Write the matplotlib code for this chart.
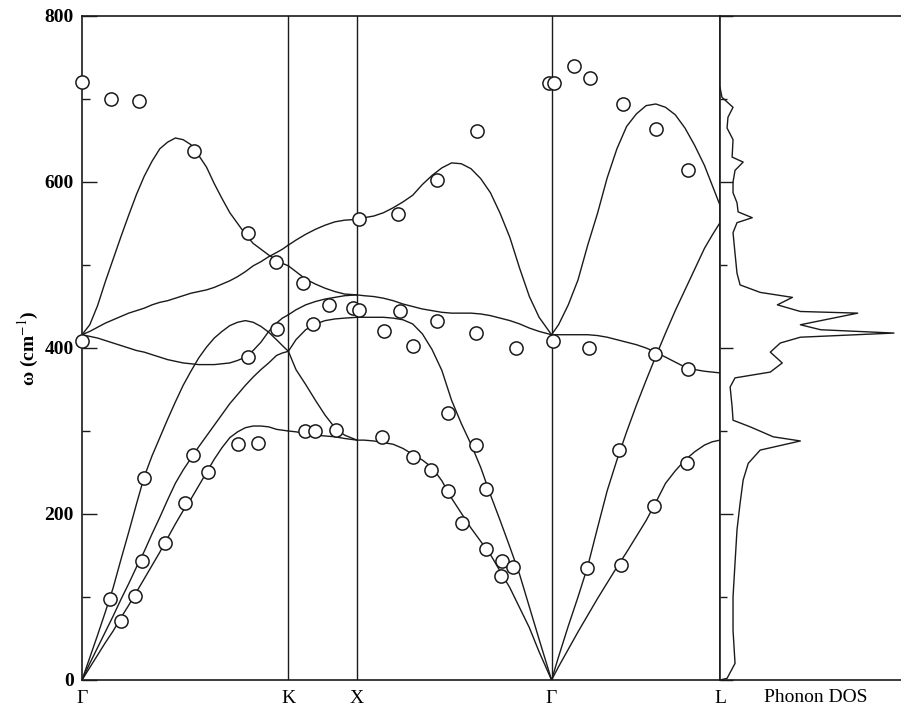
import matplotlib
matplotlib.use("Agg")
import matplotlib.pyplot as plt
from matplotlib.ticker import MultipleLocator

# high-symmetry points along the path (units of 2*pi/a)
path_q = [0.0, 1.061, 1.414, 2.414, 3.280]
path_labels = ["Γ", "K", "X", "Γ", "L"]

# calculated dispersion, Gamma -> K
q_gk = [0, 0.04, 0.08, 0.12, 0.16, 0.20, 0.24, 0.28, 0.32, 0.36, 0.40, 0.44, 0.48, 0.52,
        0.56, 0.60, 0.64, 0.68, 0.72, 0.76, 0.80, 0.84, 0.88, 0.92, 0.96, 1.00, 1.03, 1.061]
gk_ta1 = [0, 15, 30, 45, 59, 75, 90, 106, 122, 138, 154, 171, 188, 204,
          218, 234, 250, 266, 280, 292, 299, 304, 306, 306, 305, 302, 301, 300]
gk_ta2 = [0, 20, 39, 58, 77, 97, 116, 136, 155, 176, 196, 217, 237, 253,
          267, 281, 294, 307, 320, 333, 344, 355, 365, 374, 382, 391, 394, 396]
gk_la = [0, 27, 54, 82, 111, 145, 178, 212, 245, 270, 292, 314, 335, 355,
         372, 388, 401, 412, 420, 427, 431, 433, 431, 426, 419, 410, 403, 396]
gk_to1 = [416, 414, 412, 409, 406, 403, 400, 397, 395, 392, 389, 386, 384, 382,
          381, 380, 380, 380, 381, 382, 385, 389, 397, 407, 420, 430, 436, 440]
gk_to2 = [416, 420, 425, 430, 434, 438, 442, 445, 448, 452, 455, 457, 460, 463,
          466, 468, 470, 473, 477, 481, 486, 492, 499, 504, 510, 515, 519, 524]
gk_lo = [416, 428, 451, 480, 507, 534, 560, 585, 607, 625, 640, 648, 653, 651,
         645, 632, 618, 598, 580, 563, 550, 537, 526, 519, 512, 506, 502, 499]

# K -> X
q_kx = [1.061, 1.10, 1.15, 1.20, 1.25, 1.30, 1.35, 1.414]
kx_ta1 = [300, 299, 297, 295, 294, 293, 291, 289]
kx_ta2 = [396, 374, 356, 337, 319, 304, 295, 289]
kx_la = [396, 410, 422, 429, 433, 435, 436, 437]
kx_to1 = [440, 446, 452, 456, 459, 461, 463, 464]
kx_lo = [499, 492, 483, 477, 472, 468, 465, 464]
kx_to2 = [524, 530, 537, 543, 548, 552, 554, 555]

# X -> Gamma
q_xg = [1.414, 1.45, 1.5, 1.55, 1.6, 1.65, 1.7, 1.75, 1.8, 1.85, 1.9,
        1.95, 2.0, 2.05, 2.1, 2.15, 2.2, 2.25, 2.3, 2.35, 2.414]
xg_ta = [289, 289, 288, 286, 284, 279, 272, 265, 256, 240, 219,
         201, 183, 167, 151, 131, 111, 87, 63, 34, 0]
xg_la = [437, 437, 437, 437, 436, 434, 429, 417, 398, 373, 337,
         309, 284, 256, 223, 192, 160, 127, 88, 49, 0]
xg_to = [464, 463, 462, 460, 457, 453, 450, 447, 445, 443, 442,
         442, 442, 441, 439, 436, 433, 429, 424, 420, 416]
xg_lo = [555, 557, 559, 563, 569, 576, 584, 597, 608, 617, 623,
         622, 616, 604, 587, 562, 533, 496, 462, 437, 416]

# Gamma -> L
q_gl = [2.414, 2.45, 2.5, 2.55, 2.6, 2.65, 2.7, 2.75, 2.8, 2.85,
        2.9, 2.95, 3.0, 3.05, 3.1, 3.15, 3.2, 3.24, 3.28]
gl_ta = [0, 16, 37, 58, 78, 98, 117, 136, 154, 173,
         192, 214, 237, 252, 265, 275, 283, 287, 289]
gl_la = [0, 28, 65, 100, 137, 183, 228, 265, 299, 331,
         361, 390, 418, 445, 470, 495, 520, 536, 551]
gl_to = [416, 416, 416, 416, 416, 415, 413, 410, 407, 404,
         400, 395, 389, 383, 377, 374, 372, 371, 370]
gl_lo = [416, 428, 452, 482, 524, 562, 605, 640, 667, 682,
         692, 694, 690, 681, 665, 644, 620, 596, 572]

# measured points
exp_q = [0.000, 0.149, 0.293, 0.576, 0.853, 0.997, 1.136, 1.270, 1.393, 1.424,
         1.424, 1.003, 0.853, 0.000, 1.188, 1.147, 1.198, 1.306, 0.802, 0.905,
         0.571, 0.648, 0.319, 0.308, 0.427, 0.530, 0.144, 0.272, 0.201, 1.635,
         1.825, 2.026, 2.231, 2.422, 2.607, 1.553, 1.702, 1.882, 2.026, 2.077,
         1.542, 1.702, 1.794, 1.882, 2.761, 1.954, 2.077, 2.159, 2.154, 2.216,
         2.596, 1.625, 1.825, 2.031, 2.401, 2.427, 2.530, 2.612, 2.781, 2.951,
         3.116, 2.946, 3.116, 2.771, 2.941, 3.111]
exp_w = [720, 700, 698, 637, 539, 504, 478, 452, 448, 446,
         555, 423, 389, 408, 429, 300, 300, 301, 284, 286,
         271, 251, 243, 143, 165, 213, 98, 101, 71, 445,
         433, 418, 400, 408, 400, 420, 402, 322, 283, 230,
         293, 269, 253, 228, 277, 189, 158, 143, 125, 136,
         135, 561, 602, 661, 719, 719, 740, 725, 694, 664,
         614, 393, 375, 139, 210, 261]

# phonon density of states (arb. units)
dos_w = [0, 2, 20, 60, 100, 141, 181, 213, 241, 261,
         277, 288, 293, 305, 313, 329, 353, 364, 371, 382,
         395, 406, 413, 418, 422, 428, 442, 444, 452, 461,
         467, 476, 490, 514, 539, 551, 557, 564, 575, 587,
         600, 614, 624, 630, 651, 665, 678, 690, 702, 714]
dos_val = [0.0, 0.039, 0.083, 0.072, 0.072, 0.083, 0.094, 0.111, 0.128, 0.156,
           0.222, 0.444, 0.294, 0.167, 0.072, 0.067, 0.056, 0.083, 0.278, 0.344,
           0.278, 0.333, 0.444, 0.961, 0.556, 0.444, 0.761, 0.444, 0.317, 0.400,
           0.222, 0.111, 0.094, 0.083, 0.072, 0.094, 0.178, 0.100, 0.094, 0.072,
           0.072, 0.083, 0.128, 0.067, 0.072, 0.039, 0.044, 0.072, 0.011, 0.0]

plt.rcParams["font.family"] = ["Liberation Serif", "DejaVu Serif"]
plt.rcParams["mathtext.fontset"] = "stix"

ink = "#1a1a1a"

fig = plt.figure(figsize=(9.01, 7.09), dpi=100)
ax = fig.add_axes([82 / 901, 29 / 709, 638 / 901, 664 / 709])
ax_dos = fig.add_axes([720 / 901, 29 / 709, 181 / 901, 664 / 709])

sections = [
    (q_gk, [gk_ta1, gk_ta2, gk_la, gk_to1, gk_to2, gk_lo]),
    (q_kx, [kx_ta1, kx_ta2, kx_la, kx_to1, kx_lo, kx_to2]),
    (q_xg, [xg_ta, xg_la, xg_to, xg_lo]),
    (q_gl, [gl_ta, gl_la, gl_to, gl_lo]),
]
for q, branches in sections:
    for w in branches:
        ax.plot(q, w, color=ink, lw=1.0, solid_joinstyle="round")

for qv in path_q[1:4]:
    ax.axvline(qv, color=ink, lw=1.0)

ax.plot(exp_q, exp_w, "o", ms=9.5, mfc="white", mec=ink, mew=1.1,
        clip_on=False, zorder=3)

ax.set_xlim(path_q[0], path_q[-1])
ax.set_ylim(0, 800)
ax.set_xticks(path_q)
ax.set_xticklabels(path_labels)
ax.tick_params(axis="x", length=0, pad=7, labelsize=14)
ax.yaxis.set_major_locator(MultipleLocator(200))
ax.yaxis.set_minor_locator(MultipleLocator(100))
ax.tick_params(axis="y", which="major", direction="in", length=11, width=1.0,
               labelsize=14, pad=6, color=ink)
ax.tick_params(axis="y", which="minor", direction="in", length=6, width=1.0, color=ink)
for lab in ax.get_yticklabels():
    lab.set_fontweight("bold")
ax.set_ylabel("ω (cm$^{-1}$)", fontsize=14, fontweight="bold")
ax.yaxis.set_label_coords(-0.064, 0.5)
for s in ax.spines.values():
    s.set_linewidth(1.2)
    s.set_color(ink)

# DOS panel
ax_dos.plot(dos_val, dos_w, color=ink, lw=1.0)
ax_dos.set_xlim(0, 1.0)
ax_dos.set_ylim(0, 800)
ax_dos.set_xticks([])
ax_dos.yaxis.set_major_locator(MultipleLocator(200))
ax_dos.yaxis.set_minor_locator(MultipleLocator(100))
ax_dos.tick_params(axis="y", which="major", direction="in", length=9, width=1.0,
                   labelleft=False, color=ink)
ax_dos.tick_params(axis="y", which="minor", direction="in", length=5, width=1.0, color=ink)
ax_dos.spines["right"].set_visible(False)
for side in ("left", "top", "bottom"):
    ax_dos.spines[side].set_linewidth(1.2)
    ax_dos.spines[side].set_color(ink)
ax_dos.text(0.53, -0.026, "Phonon DOS", transform=ax_dos.transAxes,
            ha="center", va="center", fontsize=14)

fig.savefig("out.png", dpi=100)
